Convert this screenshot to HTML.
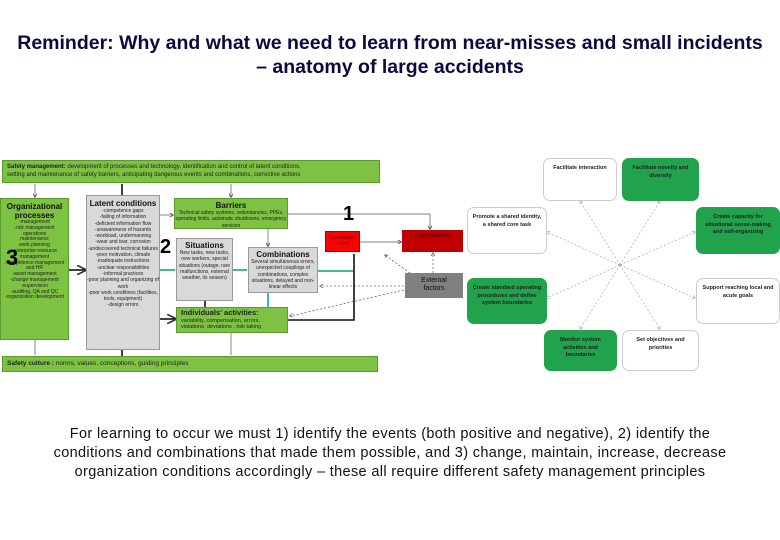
<!DOCTYPE html>
<html><head><meta charset="utf-8"><style>
body{margin:0;width:780px;height:540px;background:#fff;position:relative;font-family:"Liberation Sans",Arial,sans-serif;overflow:hidden}
.a{position:absolute;box-sizing:border-box}
.g{background:#7dc242;border:1px solid #5a9a2a}
.gr{background:#d9d9d9;border:1px solid #999}
.t{font-size:5px;line-height:6.3px;text-align:center;color:#222}
.h{font-size:8px;font-weight:bold;line-height:9px;text-align:center;color:#111}
.r{border-radius:7px;border:1px solid #ccc;font-size:5.5px;font-weight:bold;text-align:center;padding:6px 4px;line-height:7.5px;color:#222}
.gg{background:#21a24c;border-color:#21a24c}
.w{background:#fff}
</style></head><body>
<div class="a" style="left:0;top:31px;width:780px;text-align:center;font-size:19.5px;font-weight:bold;line-height:24px;color:#0a0a40;white-space:nowrap">Reminder: Why and what we need to learn from near-misses and small incidents<br>– anatomy of large accidents</div>

<svg class="a" style="left:0;top:0" width="780" height="540">
<defs><marker id="m" markerWidth="6" markerHeight="6" refX="5" refY="3" orient="auto"><path d="M0,0 L6,3 L0,6" fill="none" stroke="#333" stroke-width="1"/></marker>
<marker id="mg" markerWidth="6" markerHeight="6" refX="5" refY="3" orient="auto"><path d="M0,0 L6,3 L0,6" fill="none" stroke="#999" stroke-width="1"/></marker></defs>
<g stroke="#555" stroke-width="0.7" fill="none">
<line x1="35" y1="184" x2="35" y2="197" marker-end="url(#m)"/>
<line x1="231" y1="184" x2="231" y2="197" marker-end="url(#m)"/>
<line x1="160" y1="215" x2="173" y2="215" marker-end="url(#m)"/>
<polyline points="288,214 430,214 430,229" marker-end="url(#m)"/>
<line x1="268" y1="229" x2="268" y2="246" marker-end="url(#m)"/>
<line x1="360" y1="242" x2="401" y2="242" marker-end="url(#m)"/>
<line x1="35" y1="340" x2="35" y2="355"/><line x1="231" y1="333" x2="231" y2="355"/>
</g>
<g stroke="#111" stroke-width="1.6" fill="none">
<line x1="122" y1="184" x2="122" y2="195"/>
<line x1="69" y1="270" x2="85" y2="270" marker-end="url(#m)"/>
<line x1="160" y1="319" x2="175" y2="319" marker-end="url(#m)"/>
<line x1="205" y1="301" x2="205" y2="307"/>
<polyline points="288,320 354,320 354,254"/>
<line x1="122" y1="350" x2="122" y2="356"/>
</g>
<g stroke="#2cb57a" stroke-width="1.8" fill="none">
<line x1="160" y1="270" x2="175" y2="270"/>
<line x1="233" y1="270" x2="247" y2="270"/>
<line x1="318" y1="271" x2="353" y2="271"/>
</g>
<line x1="268" y1="307" x2="268" y2="293" stroke="#29a9e0" stroke-width="1.8"/>
<g stroke="#333" stroke-width="0.6" stroke-dasharray="2,2" fill="none">
<line x1="404" y1="286" x2="320" y2="286" marker-end="url(#m)"/>
<line x1="404" y1="290" x2="290" y2="316" marker-end="url(#m)"/>
<line x1="410" y1="273" x2="385" y2="255" marker-end="url(#m)"/>
<line x1="433" y1="273" x2="433" y2="253" marker-end="url(#m)"/>
</g>
<g stroke="#999" stroke-width="0.6" stroke-dasharray="2,2" fill="none">
<line x1="620" y1="265" x2="580" y2="201" marker-end="url(#mg)"/>
<line x1="620" y1="265" x2="660" y2="201" marker-end="url(#mg)"/>
<line x1="620" y1="265" x2="547" y2="232" marker-end="url(#mg)"/>
<line x1="620" y1="265" x2="695" y2="232" marker-end="url(#mg)"/>
<line x1="620" y1="265" x2="547" y2="298" marker-end="url(#mg)"/>
<line x1="620" y1="265" x2="695" y2="298" marker-end="url(#mg)"/>
<line x1="620" y1="265" x2="580" y2="329" marker-end="url(#mg)"/>
<line x1="620" y1="265" x2="660" y2="329" marker-end="url(#mg)"/>
</g>
</svg>

<div class="a g" style="left:2px;top:160px;width:378px;height:23px;font-size:6px;line-height:8px;padding:2px 4px;color:#222"><b>Safety management:</b> development of processes and technology, identification and control of latent conditions,<br>setting and maintenance of safety barriers, anticipating dangerous events and combinations, corrective actions</div>
<div class="a g t" style="left:0;top:198px;width:69px;height:142px;padding-top:3px;line-height:5.8px"><div class="h">Organizational processes</div>-management<br>-risk management<br>operations<br>maintenance<br>work planning<br>-enterprise resource management<br>-competence management and HR<br>-asset management<br>-change management<br>-supervision<br>-auditing, QA and QC<br>-organization development</div>
<div class="a gr t" style="left:86px;top:195px;width:74px;height:155px;padding-top:3px"><div class="h">Latent conditions</div>-competence gaps<br>-failing of information<br>-deficient information flow<br>-unawareness of hazards<br>-workload, undermanning<br>-wear and tear, corrosion<br>-undiscovered technical failures<br>-poor motivation, climate<br>-inadequate instructions<br>-unclear responsibilities<br>-informal practices<br>-poor planning and organizing of work<br>-poor work conditions (facilities, tools, equipment)<br>-design errors</div>
<div class="a g t" style="left:174px;top:198px;width:114px;height:31px;padding-top:2px"><div class="h">Barriers</div>Technical safety systems, redundancies, PPEs, operating limits, automatic shutdowns, emergency services</div>
<div class="a gr t" style="left:176px;top:238px;width:57px;height:63px;padding-top:2px"><div class="h">Situations</div>New tasks, new tasks, new workers, special situations (outage, rare malfunctions, external weather, its season)</div>
<div class="a gr t" style="left:248px;top:247px;width:70px;height:46px;padding-top:2px"><div class="h">Combinations</div>Several simultaneous errors, unexpected couplings of combinations, complex situations, delayed and non-linear effects</div>
<div class="a g" style="left:176px;top:307px;width:112px;height:26px;font-size:5.5px;line-height:6.5px;padding:2px 4px;color:#222"><b style="font-size:7.5px">Individuals' activities:</b><br>variability, compensation, errors,<br>violations, deviations , risk taking</div>
<div class="a g" style="left:2px;top:356px;width:376px;height:16px;font-size:6.5px;line-height:14px;padding-left:4px;color:#222"><b>Safety culture :</b> norms, values, conceptions, guiding principles</div>
<div class="a t" style="left:325px;top:231px;width:35px;height:21px;background:#f00;border:1px solid #a00;padding-top:3px;color:#600">Non-wanted event</div>
<div class="a t" style="left:402px;top:230px;width:61px;height:22px;background:#c00000;padding-top:3px;color:#400">Conse-quences</div>
<div class="a" style="left:405px;top:273px;width:58px;height:25px;background:#808080;font-size:7px;line-height:8px;text-align:center;padding-top:4px;color:#111">External<br>factors</div>
<div class="a" style="left:343px;top:203px;font-size:20px;font-weight:bold">1</div>
<div class="a" style="left:160px;top:236px;font-size:20px;font-weight:bold">2</div>
<div class="a" style="left:6px;top:245px;font-size:22px;font-weight:bold">3</div>

<div class="a r w" style="left:543px;top:158px;width:74px;height:43px">Facilitate interaction</div>
<div class="a r gg" style="left:622px;top:158px;width:77px;height:43px">Facilitate novelty and diversity</div>
<div class="a r w" style="left:467px;top:207px;width:80px;height:47px">Promote a shared identity, a shared core task</div>
<div class="a r gg" style="left:696px;top:207px;width:84px;height:47px">Create capacity for situational sense-making and self-organizing</div>
<div class="a r gg" style="left:467px;top:278px;width:80px;height:46px">Create standard operating procedures and define system boundaries</div>
<div class="a r w" style="left:696px;top:278px;width:84px;height:46px">Support reaching local and acute goals</div>
<div class="a r gg" style="left:544px;top:330px;width:73px;height:41px">Monitor system activities and boundaries</div>
<div class="a r w" style="left:622px;top:330px;width:77px;height:41px">Set objectives and priorities</div>

<div class="a" style="left:0;top:425px;width:780px;text-align:center;font-size:14.5px;line-height:19px;color:#111;white-space:nowrap;letter-spacing:0.35px">For learning to occur we must 1) identify the events (both positive and negative), 2) identify the<br>conditions and combinations that made them possible, and 3) change, maintain, increase, decrease<br>organization conditions accordingly – these all require different safety management principles</div>
</body></html>
